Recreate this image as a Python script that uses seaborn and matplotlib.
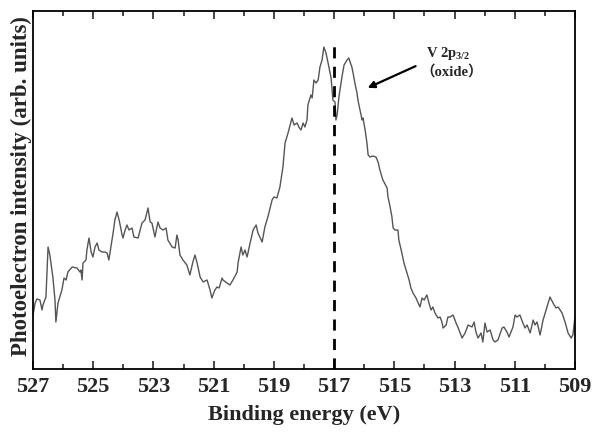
import numpy as np
import pandas as pd
import matplotlib
matplotlib.use("Agg")
import matplotlib.pyplot as plt
import seaborn as sns
from matplotlib.ticker import MultipleLocator

# ---- data ----
energy = [
    527.00, 526.93, 526.87, 526.77, 526.70, 526.67, 526.57, 526.50, 526.44, 526.34,
    526.27, 526.24, 526.17, 526.04, 525.97, 525.90, 525.84, 525.70, 525.54, 525.44,
    525.41, 525.37, 525.34, 525.24, 525.21, 525.14, 525.07, 525.01, 524.94, 524.87,
    524.81, 524.71, 524.61, 524.54, 524.48, 524.44, 524.34, 524.28, 524.21, 524.14,
    524.04, 524.01, 523.94, 523.88, 523.81, 523.71, 523.65, 523.51, 523.38, 523.28,
    523.18, 523.11, 523.05, 522.95, 522.85, 522.78, 522.68, 522.58, 522.52, 522.38,
    522.28, 522.22, 522.18, 522.12, 522.02, 521.89, 521.79, 521.69, 521.62, 521.55,
    521.45, 521.35, 521.22, 521.12, 521.06, 520.96, 520.89, 520.82, 520.72, 520.69,
    520.56, 520.46, 520.36, 520.22, 520.19, 520.09, 520.03, 519.96, 519.89, 519.79,
    519.69, 519.59, 519.53, 519.39, 519.30, 519.20, 519.06, 519.00, 518.90, 518.80,
    518.70, 518.63, 518.53, 518.40, 518.33, 518.23, 518.17, 518.10, 518.03, 517.97,
    517.90, 517.87, 517.77, 517.73, 517.67, 517.60, 517.53, 517.47, 517.40, 517.34,
    517.27, 517.20, 517.10, 517.04, 516.97, 516.94, 516.90, 516.84, 516.74, 516.67,
    516.57, 516.51, 516.47, 516.41, 516.37, 516.31, 516.24, 516.21, 516.14, 516.07,
    516.04, 515.97, 515.91, 515.87, 515.81, 515.71, 515.61, 515.54, 515.48, 515.38,
    515.24, 515.21, 515.14, 515.08, 515.04, 514.98, 514.88, 514.85, 514.75, 514.68,
    514.58, 514.51, 514.45, 514.38, 514.28, 514.21, 514.15, 514.08, 514.01, 513.92,
    513.85, 513.78, 513.72, 513.65, 513.55, 513.48, 513.42, 513.38, 513.28, 513.22,
    513.15, 513.05, 512.95, 512.89, 512.75, 512.65, 512.55, 512.42, 512.35, 512.29,
    512.22, 512.12, 512.06, 511.99, 511.92, 511.82, 511.72, 511.66, 511.56, 511.42,
    511.36, 511.26, 511.19, 511.06, 510.99, 510.93, 510.83, 510.73, 510.66, 510.59,
    510.49, 510.39, 510.33, 510.26, 510.16, 510.06, 509.93, 509.83, 509.73, 509.63,
    509.56, 509.43, 509.33, 509.23, 509.13, 509.07, 509.00,
]
intensity = [
    54, 66, 70, 69, 59, 64, 72, 122, 114, 92,
    69, 47, 66, 79, 91, 89, 97, 102, 101, 97,
    99, 89, 106, 109, 119, 131, 117, 112, 122, 126,
    119, 117, 117, 116, 109, 117, 136, 149, 157, 149,
    134, 131, 139, 144, 139, 141, 132, 131, 146, 149,
    161, 147, 146, 132, 147, 141, 139, 141, 129, 122,
    121, 134, 129, 114, 109, 104, 94, 107, 114, 106,
    92, 87, 89, 79, 71, 79, 82, 81, 91, 89,
    86, 84, 89, 97, 106, 122, 114, 119, 112, 126,
    139, 144, 136, 127, 142, 152, 169, 172, 171, 182,
    202, 226, 236, 251, 244, 246, 242, 239, 246, 242,
    249, 264, 274, 271, 289, 286, 289, 302, 309, 322,
    316, 306, 291, 269, 267, 249, 254, 272, 292, 304,
    309, 311, 307, 302, 296, 286, 276, 269, 259, 249,
    251, 239, 226, 214, 212, 213, 212, 207, 199, 189,
    181, 172, 162, 152, 141, 139, 139, 129, 116, 106,
    96, 89, 81, 76, 71, 66, 62, 71, 69, 74,
    66, 59, 62, 56, 51, 52, 47, 41, 44, 52,
    52, 54, 46, 42, 31, 36, 44, 42, 47, 37,
    31, 36, 27, 46, 37, 39, 29, 27, 29, 41,
    42, 37, 32, 42, 54, 52, 54, 46, 41, 44,
    36, 49, 44, 47, 34, 49, 62, 72, 66, 61,
    62, 56, 47, 36, 31, 34, 52,
]
xticks = [527, 525, 523, 521, 519, 517, 515, 513, 511, 509]
ref_energy = 517.0
ref_top = 327
label_line1 = "V 2p$_{\\mathrm{3/2}}$"
label_line2 = "\uff08oxide\uff09"
arrow_tip = (515.97, 280)
arrow_tail = (514.21, 304)
text1_pos = (513.22, 316)
text2_pos = (513.10, 297)

# ---- styling ----
sns.set_style("ticks")
plt.rcParams["font.family"] = ["Liberation Serif", "Noto Sans CJK SC", "DejaVu Sans"]
plt.rcParams["font.weight"] = "bold"
plt.rcParams["mathtext.fontset"] = "custom"
plt.rcParams["mathtext.rm"] = "Liberation Serif:bold"
plt.rcParams["mathtext.bf"] = "Liberation Serif:bold"
plt.rcParams["mathtext.it"] = "Liberation Serif:bold:italic"

df = pd.DataFrame({"energy": energy, "intensity": intensity})

fig = plt.figure(figsize=(5.93, 4.34), dpi=100)
ax = fig.add_axes([33 / 593, 1 - 369 / 434, 542 / 593, 358 / 434])

sns.lineplot(data=df, x="energy", y="intensity", ax=ax, color="#555555",
             linewidth=1.0, estimator=None, sort=False)

ax.vlines(ref_energy, 0, ref_top, colors="black", linestyles=(0, (4, 3)), linewidth=2.0)

ax.annotate("", xy=arrow_tip, xytext=arrow_tail,
            arrowprops=dict(arrowstyle="-|>", color="black", lw=1.6, mutation_scale=10))
ax.text(*text1_pos, label_line1, ha="center", va="center", fontsize=10.5, fontweight="bold")
ax.text(*text2_pos, label_line2, ha="center", va="center", fontsize=10.5, fontweight="bold",
        family=["Liberation Serif", "Noto Sans CJK SC"])

ax.set_xlim(527, 509)
ax.set_ylim(0, 358)
ax.set_xticks(xticks)
ax.set_xticklabels([str(t) for t in xticks])
ax.xaxis.set_minor_locator(MultipleLocator(1))
ax.set_yticks([])
ax.tick_params(axis="x", which="major", direction="in", top=True, bottom=True,
               length=6, width=1.2, labelsize=16, pad=6)
ax.tick_params(axis="x", which="minor", direction="in", top=True, bottom=True,
               length=3.5, width=1.2)
for lab in ax.get_xticklabels():
    lab.set_fontweight("bold")
for sp in ax.spines.values():
    sp.set_visible(True)
    sp.set_linewidth(1.3)
    sp.set_color("black")

ax.set_xlabel("Binding energy (eV)", fontsize=16, fontweight="bold")
ax.set_ylabel("Photoelectron intensity (arb. units)", fontsize=16.5, fontweight="bold")
ax.xaxis.set_label_coords(0.5, -0.10)
ax.yaxis.set_label_coords(-0.002, 0.51)

fig.savefig("out.png", dpi=100)
